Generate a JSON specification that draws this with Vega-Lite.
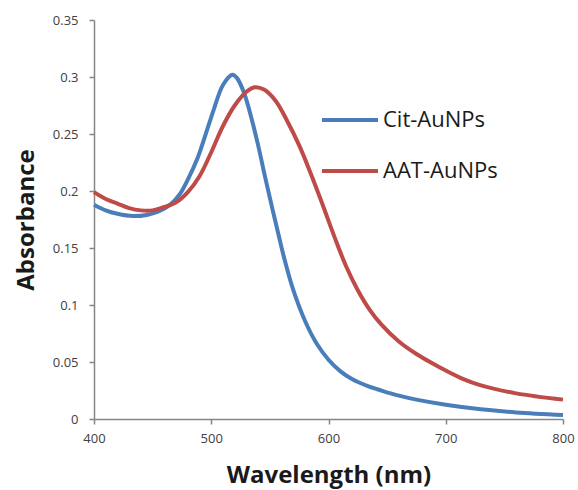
{
  "$schema": "https://vega.github.io/schema/vega-lite/v6.json",
  "autosize": "none",
  "width": 469,
  "height": 399,
  "padding": {"left": 94, "top": 20, "right": 15, "bottom": 71},
  "background": "white",
  "config": {
    "view": {"stroke": null},
    "font": "Open Sans"
  },
  "data": {
    "values": [
      {"series": "Cit-AuNPs", "wavelength": 400, "absorbance": 0.188},
      {"series": "Cit-AuNPs", "wavelength": 410, "absorbance": 0.183},
      {"series": "Cit-AuNPs", "wavelength": 420, "absorbance": 0.180},
      {"series": "Cit-AuNPs", "wavelength": 433, "absorbance": 0.178},
      {"series": "Cit-AuNPs", "wavelength": 445, "absorbance": 0.179},
      {"series": "Cit-AuNPs", "wavelength": 455, "absorbance": 0.182},
      {"series": "Cit-AuNPs", "wavelength": 465, "absorbance": 0.188},
      {"series": "Cit-AuNPs", "wavelength": 473, "absorbance": 0.197},
      {"series": "Cit-AuNPs", "wavelength": 480, "absorbance": 0.210},
      {"series": "Cit-AuNPs", "wavelength": 488, "absorbance": 0.228},
      {"series": "Cit-AuNPs", "wavelength": 495, "absorbance": 0.249},
      {"series": "Cit-AuNPs", "wavelength": 502, "absorbance": 0.271},
      {"series": "Cit-AuNPs", "wavelength": 510, "absorbance": 0.293},
      {"series": "Cit-AuNPs", "wavelength": 518, "absorbance": 0.302},
      {"series": "Cit-AuNPs", "wavelength": 522, "absorbance": 0.299},
      {"series": "Cit-AuNPs", "wavelength": 528, "absorbance": 0.286},
      {"series": "Cit-AuNPs", "wavelength": 534, "absorbance": 0.265},
      {"series": "Cit-AuNPs", "wavelength": 540, "absorbance": 0.240},
      {"series": "Cit-AuNPs", "wavelength": 546, "absorbance": 0.212},
      {"series": "Cit-AuNPs", "wavelength": 552, "absorbance": 0.185},
      {"series": "Cit-AuNPs", "wavelength": 558, "absorbance": 0.159},
      {"series": "Cit-AuNPs", "wavelength": 562, "absorbance": 0.142},
      {"series": "Cit-AuNPs", "wavelength": 570, "absorbance": 0.113},
      {"series": "Cit-AuNPs", "wavelength": 580, "absorbance": 0.086},
      {"series": "Cit-AuNPs", "wavelength": 590, "absorbance": 0.066},
      {"series": "Cit-AuNPs", "wavelength": 600, "absorbance": 0.052},
      {"series": "Cit-AuNPs", "wavelength": 610, "absorbance": 0.042},
      {"series": "Cit-AuNPs", "wavelength": 620, "absorbance": 0.035},
      {"series": "Cit-AuNPs", "wavelength": 633, "absorbance": 0.029},
      {"series": "Cit-AuNPs", "wavelength": 645, "absorbance": 0.025},
      {"series": "Cit-AuNPs", "wavelength": 660, "absorbance": 0.0205},
      {"series": "Cit-AuNPs", "wavelength": 675, "absorbance": 0.017},
      {"series": "Cit-AuNPs", "wavelength": 700, "absorbance": 0.0125},
      {"series": "Cit-AuNPs", "wavelength": 730, "absorbance": 0.0085},
      {"series": "Cit-AuNPs", "wavelength": 760, "absorbance": 0.0058},
      {"series": "Cit-AuNPs", "wavelength": 800, "absorbance": 0.0035},
      {"series": "AAT-AuNPs", "wavelength": 400, "absorbance": 0.199},
      {"series": "AAT-AuNPs", "wavelength": 410, "absorbance": 0.193},
      {"series": "AAT-AuNPs", "wavelength": 420, "absorbance": 0.189},
      {"series": "AAT-AuNPs", "wavelength": 430, "absorbance": 0.185},
      {"series": "AAT-AuNPs", "wavelength": 440, "absorbance": 0.183},
      {"series": "AAT-AuNPs", "wavelength": 450, "absorbance": 0.183},
      {"series": "AAT-AuNPs", "wavelength": 460, "absorbance": 0.186},
      {"series": "AAT-AuNPs", "wavelength": 470, "absorbance": 0.190},
      {"series": "AAT-AuNPs", "wavelength": 480, "absorbance": 0.199},
      {"series": "AAT-AuNPs", "wavelength": 490, "absorbance": 0.213},
      {"series": "AAT-AuNPs", "wavelength": 500, "absorbance": 0.234},
      {"series": "AAT-AuNPs", "wavelength": 510, "absorbance": 0.257},
      {"series": "AAT-AuNPs", "wavelength": 520, "absorbance": 0.275},
      {"series": "AAT-AuNPs", "wavelength": 530, "absorbance": 0.287},
      {"series": "AAT-AuNPs", "wavelength": 537, "absorbance": 0.291},
      {"series": "AAT-AuNPs", "wavelength": 545, "absorbance": 0.289},
      {"series": "AAT-AuNPs", "wavelength": 555, "absorbance": 0.279},
      {"series": "AAT-AuNPs", "wavelength": 565, "absorbance": 0.261},
      {"series": "AAT-AuNPs", "wavelength": 575, "absorbance": 0.240},
      {"series": "AAT-AuNPs", "wavelength": 585, "absorbance": 0.215},
      {"series": "AAT-AuNPs", "wavelength": 595, "absorbance": 0.188},
      {"series": "AAT-AuNPs", "wavelength": 605, "absorbance": 0.160},
      {"series": "AAT-AuNPs", "wavelength": 615, "absorbance": 0.134},
      {"series": "AAT-AuNPs", "wavelength": 625, "absorbance": 0.113},
      {"series": "AAT-AuNPs", "wavelength": 635, "absorbance": 0.096},
      {"series": "AAT-AuNPs", "wavelength": 645, "absorbance": 0.083},
      {"series": "AAT-AuNPs", "wavelength": 660, "absorbance": 0.068},
      {"series": "AAT-AuNPs", "wavelength": 675, "absorbance": 0.057},
      {"series": "AAT-AuNPs", "wavelength": 690, "absorbance": 0.048},
      {"series": "AAT-AuNPs", "wavelength": 700, "absorbance": 0.0425},
      {"series": "AAT-AuNPs", "wavelength": 715, "absorbance": 0.035},
      {"series": "AAT-AuNPs", "wavelength": 730, "absorbance": 0.0295},
      {"series": "AAT-AuNPs", "wavelength": 760, "absorbance": 0.0225},
      {"series": "AAT-AuNPs", "wavelength": 800, "absorbance": 0.017}
    ]
  },
  "mark": {"type": "line", "strokeWidth": 4, "interpolate": "catmull-rom"},
  "encoding": {
    "x": {
      "field": "wavelength",
      "type": "quantitative",
      "scale": {"domain": [400, 800], "nice": false, "zero": false},
      "axis": {
        "title": "Wavelength (nm)",
        "values": [400, 500, 600, 700, 800],
        "format": "d",
        "grid": false,
        "domainColor": "#868686",
        "domainWidth": 1.5,
        "tickColor": "#868686",
        "tickWidth": 1.5,
        "tickSize": 5,
        "labelPadding": 8,
        "labelFontSize": 13,
        "labelColor": "#404040",
        "labelFlush": false,
        "titleFontSize": 24,
        "titleFontWeight": "bold",
        "titleColor": "#1a1a1a",
        "titlePadding": 18
      }
    },
    "y": {
      "field": "absorbance",
      "type": "quantitative",
      "scale": {"domain": [0, 0.35], "nice": false},
      "axis": {
        "title": "Absorbance",
        "values": [0, 0.05, 0.1, 0.15, 0.2, 0.25, 0.3, 0.35],
        "labelExpr": "'' + datum.value",
        "grid": false,
        "domainColor": "#868686",
        "domainWidth": 1.5,
        "tickColor": "#868686",
        "tickWidth": 1.5,
        "tickSize": 5,
        "labelPadding": 11,
        "labelFontSize": 13,
        "labelColor": "#404040",
        "labelFlush": false,
        "titleFontSize": 24,
        "titleFontWeight": "bold",
        "titleColor": "#1a1a1a",
        "titlePadding": 14
      }
    },
    "color": {
      "field": "series",
      "type": "nominal",
      "sort": ["Cit-AuNPs", "AAT-AuNPs"],
      "scale": {"domain": ["Cit-AuNPs", "AAT-AuNPs"], "range": ["#4a7ebb", "#be4b48"]},
      "legend": {
        "title": null,
        "orient": "none",
        "legendX": 226,
        "legendY": 70,
        "symbolType": "stroke",
        "symbolSize": 3136,
        "symbolStrokeWidth": 4,
        "labelFontSize": 22,
        "labelColor": "#1a1a1a",
        "labelOffset": 3,
        "rowPadding": 10
      }
    }
  }
}
